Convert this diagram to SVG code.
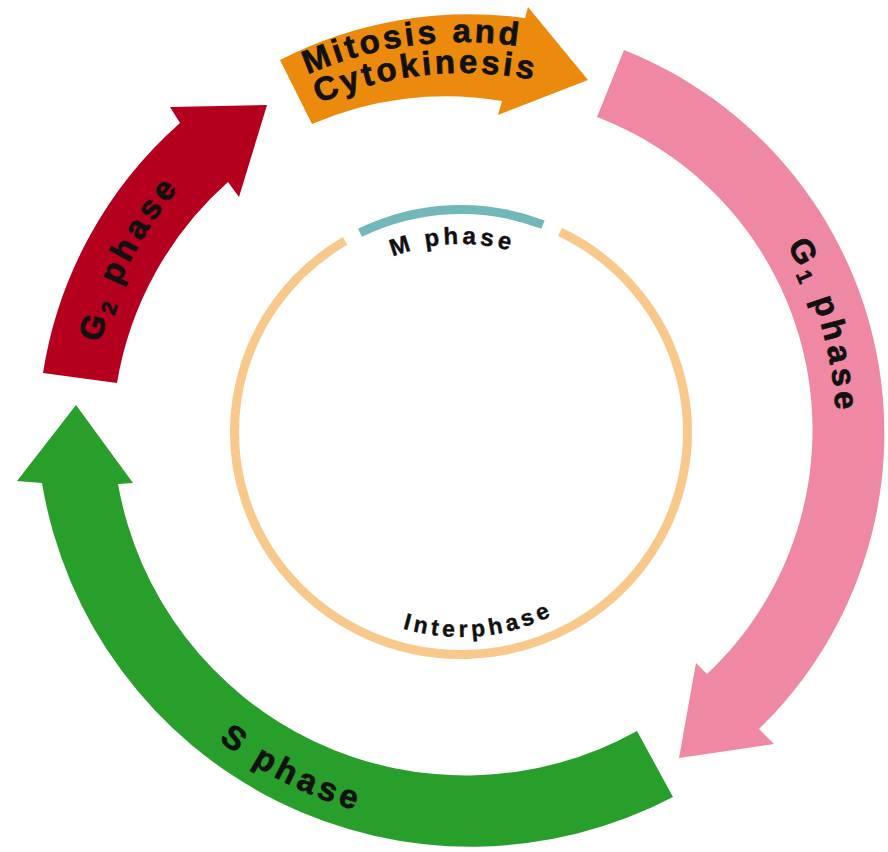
<svg xmlns="http://www.w3.org/2000/svg" xmlns:xlink="http://www.w3.org/1999/xlink" width="888" height="852" viewBox="0 0 888 852">
<style>
.lbl{font-family:"Liberation Sans",Arial,sans-serif;font-weight:bold;fill:#111;stroke:#111;stroke-width:0.7px;}
.big{font-size:33px;letter-spacing:4.5px;}
.orange{letter-spacing:3.3px;}
.mp{font-size:24px;letter-spacing:3.8px;stroke-width:0.4px;}
.ip{font-size:23px;letter-spacing:4px;stroke-width:0.4px;}
.ring{fill:none;stroke-width:9;}
</style>
<defs>
<path id="pG2" d="M 100.3,342.9 A 373 373 0 0 1 357.1,72.4"/>
<path id="pG1" d="M 787,245.2 A 373 373 0 0 1 785,618.2"/>
<path id="pS" d="M 218.7,740.4 A 395 395 0 0 0 609.7,796.8"/>
<path id="pM1" d="M 307.7,74.5 A 388 388 0 0 1 657,94"/>
<path id="pM2" d="M 318.9,103.4 A 357 357 0 0 1 641.5,120.8"/>
<path id="pMp" d="M 333.7,293.6 A 188 188 0 0 1 575.2,282.7"/>
<path id="pIn" d="M 344.3,600.5 A 205 205 0 0 0 606.7,576.2"/>
</defs>
<rect width="888" height="852" fill="#fff"/>
<g id="inner-cycle">
<path class="ring" stroke="#F9C98C" d="M 560,231.9 A 226.5 222.5 0 1 1 345,240.9"/>
<path class="ring" stroke="#72B8B9" d="M 360,232.8 A 226.5 222.5 0 0 1 543,224.6"/>
<text class="lbl mp"><textPath xlink:href="#pMp" href="#pMp" startOffset="50%" text-anchor="middle">M phase</textPath></text>
<text class="lbl ip"><textPath xlink:href="#pIn" href="#pIn" startOffset="50%" text-anchor="middle">Interphase</textPath></text>
</g>
<g id="connectors">
<g id="g2-phase">
<path fill="#B4001E" d="M 43,373 A 420 420 0 0 1 180,123 L 170,107 L 267,105 L 239,197 L 228,182 A 344 344 0 0 0 117,383 Z"/>
<text class="lbl big"><textPath xlink:href="#pG2" href="#pG2">G<tspan font-size="21" dy="6">2</tspan><tspan dy="-6"> phase</tspan></textPath></text>
</g>
<g id="mitosis">
<path fill="#EC8A0E" d="M 280,60 A 414 414 0 0 1 525,18 L 528,7 L 588,80 L 498,115 L 502,101 A 336 336 0 0 0 312,124 Z"/>
<text class="lbl big orange"><textPath xlink:href="#pM1" href="#pM1">Mitosis and</textPath></text>
<text class="lbl big orange"><textPath xlink:href="#pM2" href="#pM2">Cytokinesis</textPath></text>
</g>
<g id="g1-phase">
<path fill="#EF88A2" d="M 624,50 A 412 412 0 0 1 759,729 L 774,744 L 679,758 L 696,663 L 707,674 A 335 335 0 0 0 597,117 Z"/>
<text class="lbl big"><textPath xlink:href="#pG1" href="#pG1">G<tspan font-size="21" dy="6">1</tspan><tspan dy="-6"> phase</tspan></textPath></text>
</g>
<g id="s-phase">
<path fill="#289F2A" d="M 673,797 A 435 435 0 0 1 42,483 L 17,481 L 76,405 L 133,483 L 118,484 A 353 353 0 0 0 637,731 Z"/>
<text class="lbl big"><textPath xlink:href="#pS" href="#pS">S phase</textPath></text>
</g>
</g>
</svg>
